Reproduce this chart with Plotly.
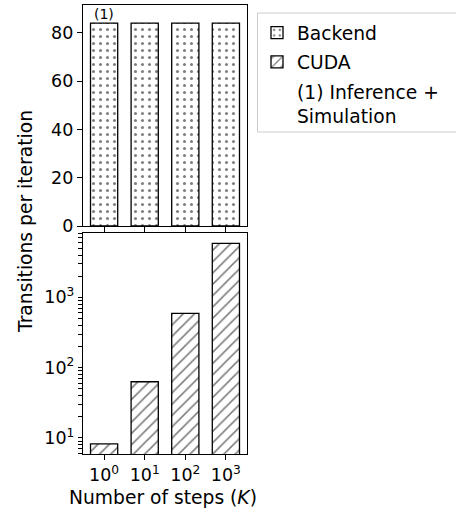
import plotly.graph_objects as go

steps = [1, 10, 100, 1000]
tick_labels = ["10<sup>0</sup>", "10<sup>1</sup>", "10<sup>2</sup>", "10<sup>3</sup>"]
backend_values = [84, 84, 84, 84]
cuda_values = [8.2, 63, 590, 5870]
top_ticks = [0, 20, 40, 60, 80]
log_ticks = [10, 100, 1000]
log_tick_labels = ["10<sup>1</sup>", "10<sup>2</sup>", "10<sup>3</sup>"]
minor_log_ticks = [d * 10 ** e for e in range(0, 4) for d in range(2, 10)]

positions = list(range(len(steps)))

W, H = 456, 514
FONT = "DejaVu Sans"
FS = 17.5
FS_LABEL = 18.7
LOG_RANGE = [0.771, 3.916]

# all tick positions on the log axis; only the decades carry a label
all_log_ticks = log_ticks + minor_log_ticks
all_log_text = log_tick_labels + [""] * len(minor_log_ticks)

def px_x(p):
    return p / W

def px_y(p):
    return 1 - p / H

fig = go.Figure()
fig.add_trace(go.Bar(
    x=positions, y=backend_values, name="Backend", xaxis="x", yaxis="y",
    width=0.67,
    marker=dict(color="white", line=dict(color="black", width=1.3),
                pattern=dict(shape=".", fgcolor="black", bgcolor="white", size=7, solidity=0.15)),
    legendgroup="a",
))
fig.add_trace(go.Bar(
    x=positions, y=cuda_values, name="CUDA", xaxis="x2", yaxis="y2",
    width=0.67,
    marker=dict(color="white", line=dict(color="black", width=1.3),
                pattern=dict(shape="/", fgcolor="black", bgcolor="white", size=8, solidity=0.2)),
    legendgroup="b",
))
fig.add_trace(go.Scatter(
    x=[None], y=[None], mode="lines", line=dict(width=0, color="rgba(0,0,0,0)"),
    name="(1) Inference +<br>Simulation", xaxis="x2", yaxis="y2", legendgroup="c",
))

xdom = [px_x(83), px_x(247)]
axis_common = dict(showline=True, linecolor="black", linewidth=1.2, mirror=True,
                   ticks="outside", tickwidth=1.2, tickcolor="black",
                   showgrid=False, zeroline=False, automargin=False,
                   tickfont=dict(family=FONT, size=FS, color="black"))

fig.update_layout(
    width=W, height=H, margin=dict(l=0, r=0, t=0, b=0),
    paper_bgcolor="white", plot_bgcolor="white",
    font=dict(family=FONT, size=FS, color="black"),
    xaxis=dict(domain=xdom, anchor="y", range=[-0.52, 3.52], ticklen=5,
               tickvals=positions, showticklabels=False, **axis_common),
    yaxis=dict(domain=[px_y(226), px_y(5)], anchor="x", range=[0, 91.5], ticklen=5,
               tickvals=top_ticks, **axis_common),
    xaxis2=dict(domain=xdom, anchor="y2", range=[-0.52, 3.52], ticklen=5,
                tickvals=positions, ticktext=tick_labels, **axis_common),
    yaxis2=dict(domain=[px_y(454), px_y(233)], anchor="x2", type="log",
                range=LOG_RANGE, tickmode="array", tickvals=all_log_ticks,
                ticktext=all_log_text, ticklen=4, **axis_common),
    legend=dict(x=px_x(257), y=px_y(14), xanchor="left", yanchor="top",
                bgcolor="rgba(0,0,0,0)", borderwidth=0,
                font=dict(family=FONT, size=FS_LABEL, color="black"),
                tracegroupgap=2, itemwidth=30),
    showlegend=True,
)

fig.add_shape(type="rect", xref="paper", yref="paper",
              x0=px_x(257.5), x1=1.05, y0=px_y(132), y1=px_y(13),
              line=dict(color="#cccccc", width=1), fillcolor="white", layer="below")

fig.add_annotation(x=positions[0], y=backend_values[0], xref="x", yref="y",
                   text="(1)", showarrow=False, xanchor="center", yanchor="bottom", yshift=-1,
                   font=dict(family=FONT, size=14, color="black"))
fig.add_annotation(x=px_x(25), y=px_y(222), xref="paper", yref="paper",
                   text="Transitions per iteration", textangle=-90, showarrow=False,
                   xanchor="center", yanchor="middle",
                   font=dict(family=FONT, size=FS_LABEL, color="black"))
fig.add_annotation(x=px_x(163), y=px_y(497), xref="paper", yref="paper",
                   text="Number of steps (<i>K</i>)", showarrow=False,
                   xanchor="center", yanchor="middle",
                   font=dict(family=FONT, size=FS_LABEL, color="black"))

fig.write_html("out.html")
